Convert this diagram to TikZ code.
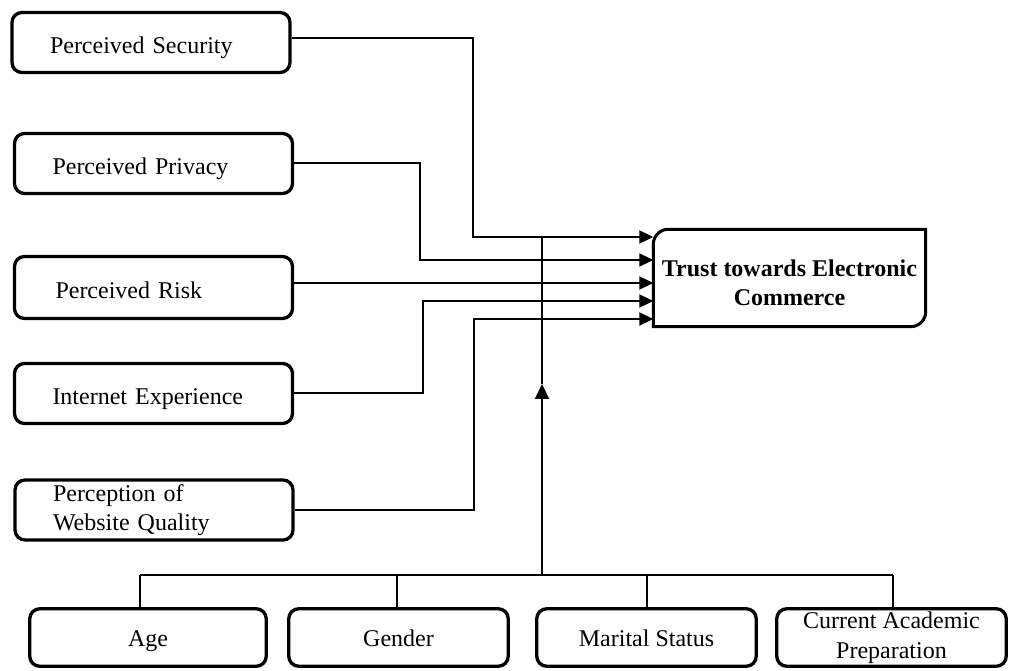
\documentclass[tikz,border=0pt]{standalone}
\usepackage{fontspec}
\setmainfont{Liberation Serif}
\usetikzlibrary{arrows.meta}
\begin{document}
\begin{tikzpicture}[x=1pt,y=1pt,
  lbox/.style={draw, line width=3.3pt, rounded corners=10pt, minimum width=278pt, minimum height=60pt,
    text width=202pt, inner xsep=38pt, align=left, font=\fontsize{24}{29}\selectfont},
  bbox/.style={draw, line width=3.3pt, rounded corners=10pt, minimum height=57.5pt,
    align=center, inner sep=0pt, font=\fontsize{24}{30}\selectfont},
  oneline/.style={text height=25pt, text depth=2pt},
  bline/.style={text height=22pt, text depth=5pt},
  conn/.style={line width=2pt},
  arr/.style={conn, -{Triangle[length=14pt,width=13pt]}},
  uparr/.style={conn, -{Triangle[length=15pt,width=14pt]}}
]
\useasboundingbox (0,0) rectangle (1010,670);

% left factor boxes
\node[lbox, oneline] (sec)  at (151,627.5) {Perceived Security};
\node[lbox, oneline] (priv) at (153.5,506.5) {Perceived Privacy};
\node[lbox, oneline, minimum height=62pt] (risk) at (153.5,382.5) {\hspace*{3pt}Perceived Risk};
\node[lbox, oneline] (inet) at (153.5,276.5) {Internet Experience};
\node[lbox] (perc) at (154,160) {Perception of\\Website Quality};

% target box
\node[minimum width=272pt, minimum height=97pt, inner sep=0pt,
      font=\bfseries\fontsize{24}{29}\selectfont] (trust) at (789.5,392)
      {\raisebox{-13.5pt}[0pt][0pt]{\begin{tabular}{@{}c@{}}Trust towards Electronic\\Commerce\end{tabular}}};
\draw[line width=3pt] (trust.south west) -- ([yshift=-15pt]trust.north west)
  arc[start angle=180, end angle=90, radius=15pt] -- (trust.north east)
  -- ([yshift=15pt]trust.south east)
  arc[start angle=0, end angle=-90, radius=15pt] -- cycle;

% bottom moderator boxes
\node[bbox, bline, minimum width=236.5pt] (age)  at (148,32.5) {Age};
\node[bbox, bline, minimum width=219.5pt] (gend) at (398.5,32.5) {Gender};
\node[bbox, bline, minimum width=219.5pt] (mar)  at (646.5,32.5) {Marital Status};
\node[bbox, minimum width=229.5pt] (cur)  at (891.5,32.5) {Current Academic\\Preparation};

% arrow targets on the trust box
\coordinate (in1) at (trust.west |- 0,433);
\coordinate (in2) at (trust.west |- 0,410);
\coordinate (in3) at (trust.west |- 0,387);
\coordinate (in4) at (trust.west |- 0,369);
\coordinate (in5) at (trust.west |- 0,351);

% connectors from left boxes
\draw[arr] (sec.east |- 0,632) -| (473,433) -- (in1);
\draw[arr] (priv.east) -| (420,410) -- (in2);
\draw[arr] (risk.east |- in3) -- (in3);
\draw[arr] (inet.east) -| (423,369) -- (in4);
\draw[arr] (perc.east) -| (474,351) -- (in5);

% moderator bus
\coordinate (bus) at (542,95);
\coordinate (b1) at (140,95);
\coordinate (b2) at (397,95);
\coordinate (b3) at (647,95);
\coordinate (b4) at (893,95);
\draw[conn] (b1) -- (b4);
\draw[conn] (age.north -| b1) -- (b1);
\draw[conn] (gend.north -| b2) -- (b2);
\draw[conn] (mar.north -| b3) -- (b3);
\draw[conn] (cur.north -| b4) -- (b4);
\coordinate (tip) at (542,286);
\draw[uparr] (bus) -- (tip);
\draw[conn] (tip) -- (bus |- in1);
\end{tikzpicture}
\end{document}
